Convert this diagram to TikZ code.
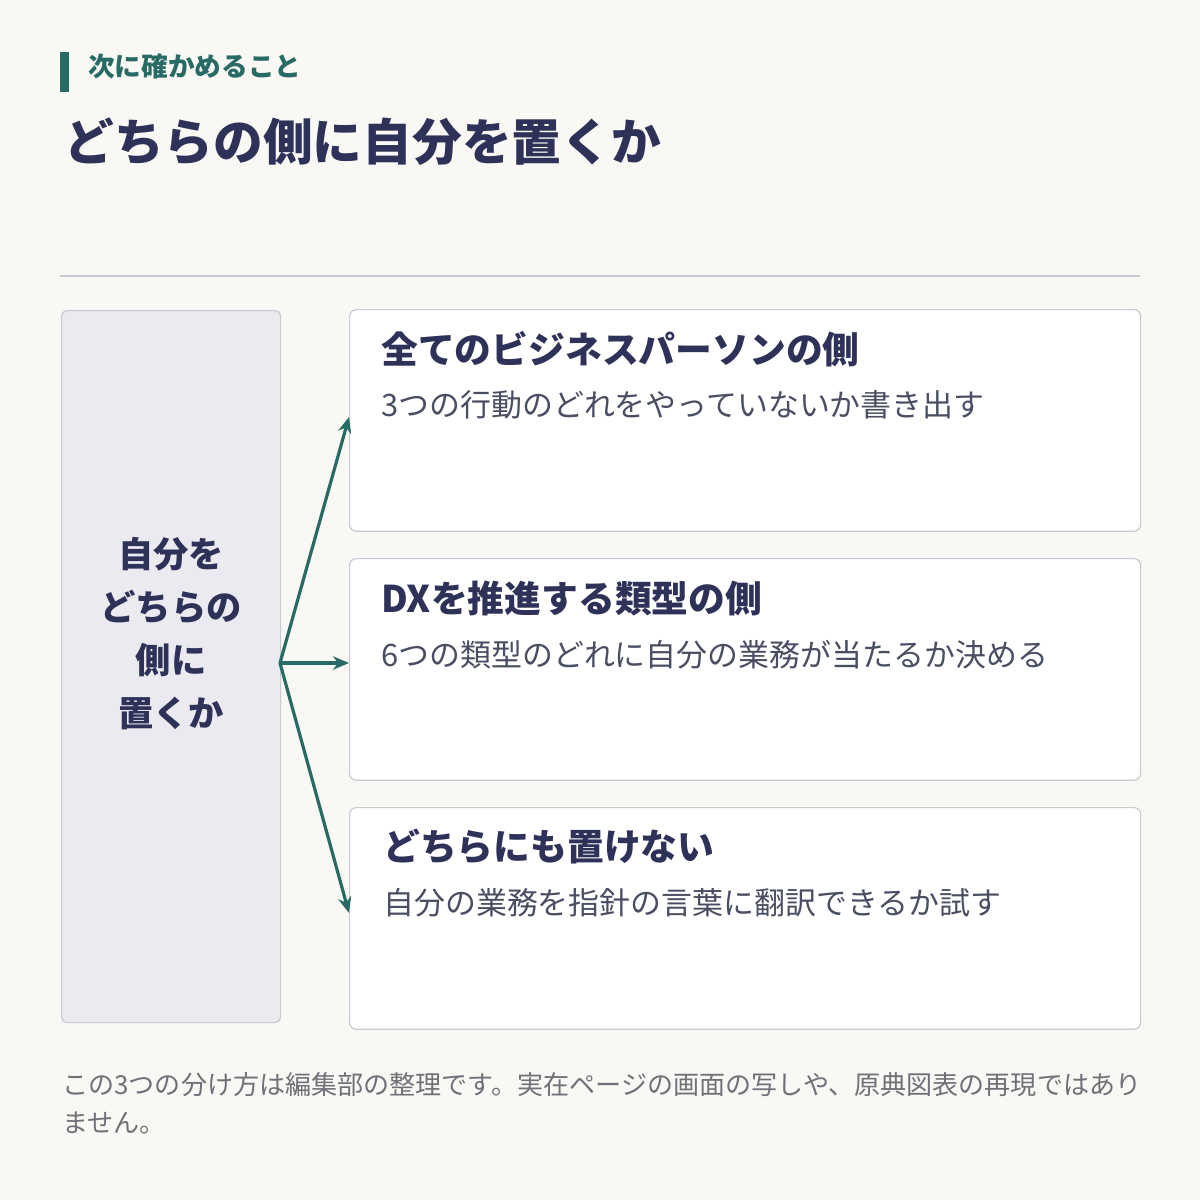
\documentclass[tikz,border=0pt]{standalone}
\usepackage{fontspec}
\setmainfont{Noto Sans CJK JP}
\usetikzlibrary{arrows.meta}
\usetikzlibrary{positioning}
\definecolor{bgpaper}{HTML}{F9F8F4}
\definecolor{navy}{HTML}{2E3158}
\definecolor{teal}{HTML}{276B64}
\definecolor{subgray}{HTML}{4A4E63}
\definecolor{notegray}{HTML}{707078}
\definecolor{edgegray}{HTML}{C9CAD1}
\definecolor{sidefill}{HTML}{EBEAF0}
\tikzset{x=0.75pt, y=-0.75pt,
sidebox/.style={ % left column
draw=edgegray, fill=sidefill, rounded corners=4pt, line width=0.9pt,
anchor=north west, inner sep=0pt, minimum width=164.25pt, minimum height=534pt},
choice/.style={ % the three answer boxes
draw=edgegray, fill=white, rounded corners=5pt, line width=0.9pt,
anchor=north west, inner sep=0pt, minimum width=593.25pt, minimum height=166.2pt},
head/.style={anchor=west, inner sep=0pt, text=navy, font=\fontsize{27.6}{33}\selectfont\bfseries},
body/.style={anchor=west, inner sep=0pt, text=subgray, font=\fontsize{23.2}{28}\selectfont},
branch/.style={draw=teal, line width=2.4pt, -{Stealth[length=12pt,width=10pt]}}}

\begin{document}
\begin{tikzpicture}
\fill[bgpaper] (0,0) rectangle (1200,1200);
\useasboundingbox (0,0) rectangle (1200,1200);
% heading
\fill[teal] (60,52) rectangle (69,92);
\node[anchor=west, inner sep=0pt, text=teal, font=\fontsize{20}{24}\selectfont\bfseries] (kicker) at (88,66) {次に確かめること};
\node[anchor=west, inner sep=0pt, text=navy, font=\fontsize{37.3}{44}\selectfont\bfseries] (title) at (64,142) {どちらの側に自分を置くか};
\draw[edgegray, line width=1pt] (60,276) -- (1140,276);
% left column
\node[sidebox] (side) at (61,310) {};
\node[align=center, inner sep=0pt, text=navy, font=\fontsize{26.5}{39.75}\selectfont\bfseries] (sidetext) at (171,634) {自分を\\どちらの\\側に\\置くか};
% answer boxes
\node[choice] (b1) at (349,309) {};
\node[choice] (b2) at (349,558) {};
\node[choice] (b3) at (349,807) {};
\node[head] (h1) at (381,349) {全てのビジネスパーソンの側};
\node[body] (s1) at (381,405) {3つの行動のどれをやっていないか書き出す};
\node[head] (h2) at (381,598) {DXを推進する類型の側};
\node[body] (s2) at (381,655) {6つの類型のどれに自分の業務が当たるか決める};
\node[head] (h3) at (383,847) {どちらにも置けない};
\node[body] (s3) at (383,903) {自分の業務を指針の言葉に翻訳できるか試す};
% branches
\coordinate (fork) at (280,663);
\draw[branch] (fork) -- (b1.west |- 0,417);
\draw[branch] (fork) -- (b2.west |- fork);
\draw[branch] (fork) -- (b3.west |- 0,913);
% note
\node[anchor=north west, inner sep=0pt, align=left, text=notegray, font=\fontsize{19.55}{28.5}\selectfont] (note) at (62,1072) {この3つの分け方は編集部の整理です。実在ページの画面の写しや、原典図表の再現ではあり\\ません。};
\end{tikzpicture}
\end{document}
